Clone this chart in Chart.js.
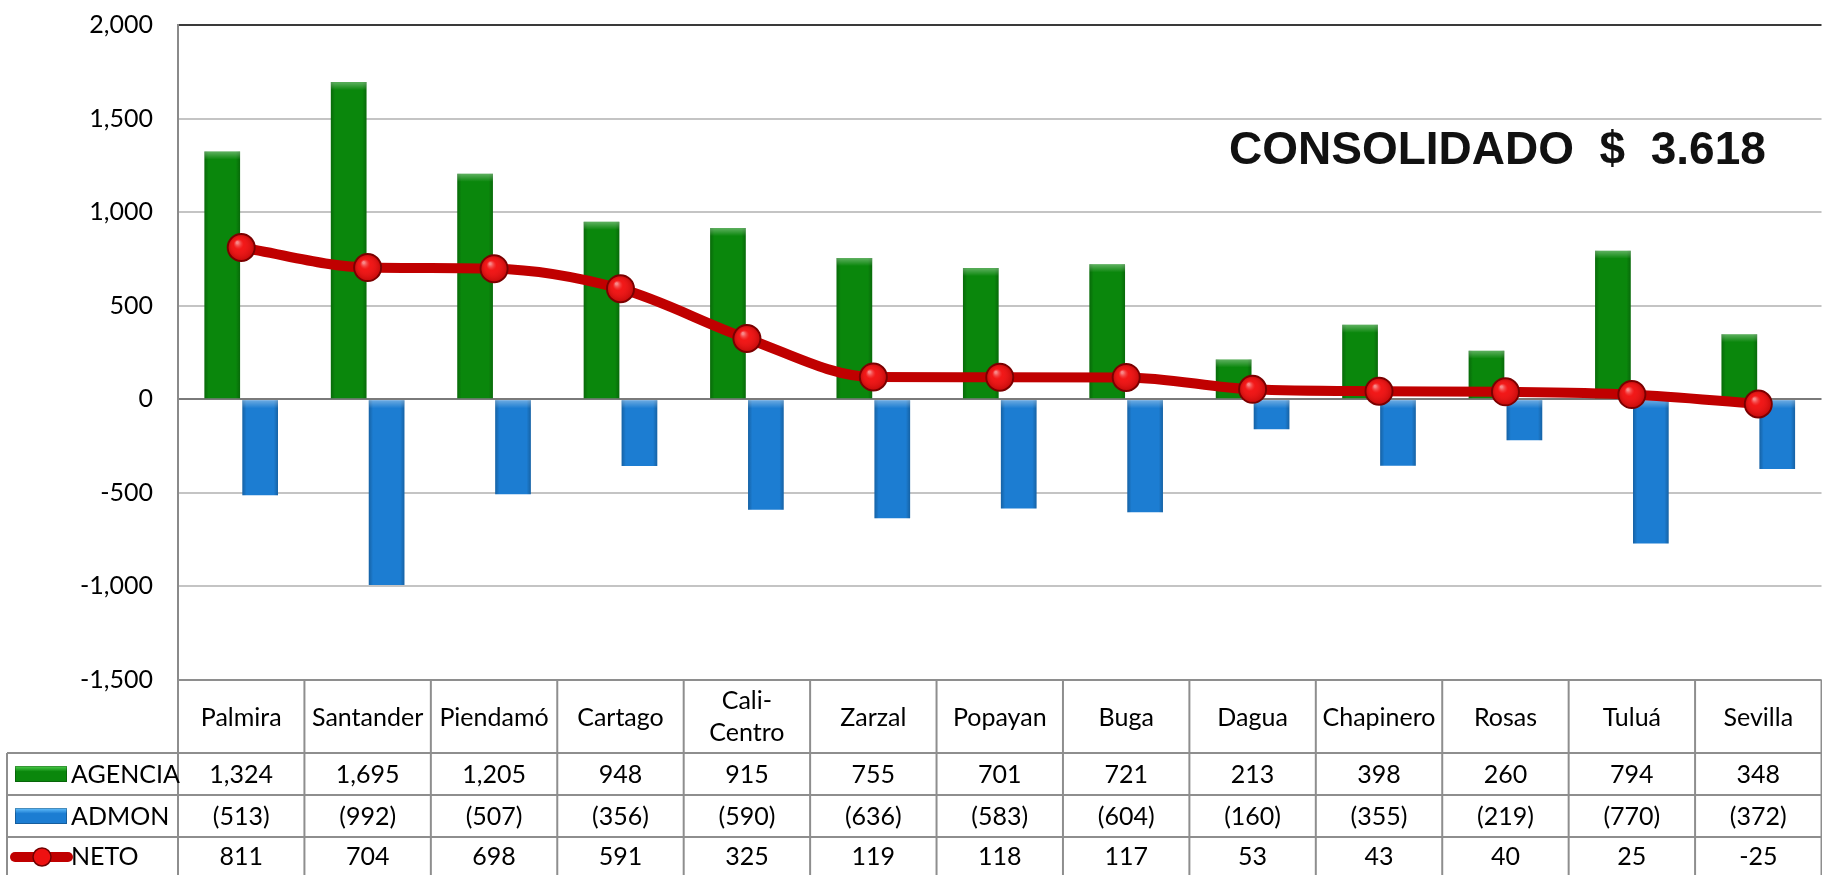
<!DOCTYPE html>
<html><head><meta charset="utf-8">
<script src="https://cdn.jsdelivr.net/npm/chart.js@4.4.1/dist/chart.umd.min.js"></script>
<style>
html,body{margin:0;padding:0;background:#fff;overflow:hidden;width:1822px;height:875px}
#wrap{position:absolute;left:0;top:0;width:1837px;height:875px}
</style>
</head><body><div id="wrap"><canvas id="c" width="1837" height="875"></canvas></div>
<script>
// ---------- data ----------
const categories = ['Palmira','Santander','Piendamó','Cartago',['Cali-','Centro'],'Zarzal','Popayan','Buga','Dagua','Chapinero','Rosas','Tuluá','Sevilla'];
const agencia = [1324,1695,1205,948,915,755,701,721,213,398,260,794,348];
const admon   = [-513,-992,-507,-356,-590,-636,-583,-604,-160,-355,-219,-770,-372];
const neto    = [811,704,698,591,325,119,118,117,53,43,40,25,-25];
const seriesNames = ['AGENCIA','ADMON','NETO'];
const yMin = -1500, yMax = 2000, yStep = 500;
const consolidadoText = 'CONSOLIDADO  $  3.618';

// ---------- styles ----------
const GREEN = '#0a870c', BLUE = '#1c7dd2', RED_LINE = '#c00000';
const FONT = 'Lato';
const FSIZE = 25;
const fmt = v => Math.abs(v).toLocaleString('en-US');
const fmtNum = v => (v < 0 ? '-' : '') + fmt(v);
const fmtAcct = v => v < 0 ? '(' + fmt(v) + ')' : fmt(v);

const barShade = {
  id: 'barShade',
  afterDatasetDraw(chart, args) {
    const meta = args.meta;
    const ctx = chart.ctx;
    if (meta.type === 'bar') {
      ctx.save();
      for (const el of meta.data) {
        const p = el.getProps(['x','y','base','width'], true);
        const l = p.x - p.width/2, t = Math.min(p.y, p.base), h = Math.abs(p.base - p.y);
        const g = ctx.createLinearGradient(l,0,l+p.width,0);
        g.addColorStop(0,'rgba(0,0,0,0.22)'); g.addColorStop(0.12,'rgba(0,0,0,0)');
        g.addColorStop(0.88,'rgba(0,0,0,0)'); g.addColorStop(1,'rgba(0,0,0,0.22)');
        ctx.fillStyle = g; ctx.fillRect(l,t,p.width,h);
        const g2 = ctx.createLinearGradient(0,t,0,t+8);
        g2.addColorStop(0,'rgba(255,255,255,0.35)'); g2.addColorStop(1,'rgba(255,255,255,0)');
        ctx.fillStyle = g2; ctx.fillRect(l,t,p.width,Math.min(8,h));
      }
      ctx.restore();
    } else if (meta.type === 'line') {
      ctx.save();
      for (const el of meta.data) {
        const p = el.getProps(['x','y'], true);
        const g = ctx.createRadialGradient(p.x-4,p.y-5,1,p.x,p.y,13);
        g.addColorStop(0,'rgba(255,255,255,0.5)');
        g.addColorStop(0.35,'rgba(255,80,80,0.12)');
        g.addColorStop(1,'rgba(120,0,0,0.35)');
        ctx.fillStyle = g;
        ctx.beginPath(); ctx.arc(p.x,p.y,12.5,0,Math.PI*2); ctx.fill();
      }
      ctx.restore();
    }
  }
};

function swatch(ctx, x, y, w, h, c1, c2) {
  const g = ctx.createLinearGradient(0,y,0,y+h);
  g.addColorStop(0,c1); g.addColorStop(0.35,c2); g.addColorStop(1,c2);
  ctx.fillStyle = g; ctx.fillRect(x,y,w,h);
  ctx.strokeStyle = 'rgba(0,0,0,0.25)'; ctx.lineWidth = 1; ctx.strokeRect(x+0.5,y+0.5,w-1,h-1);
}

const dataTable = {
  id: 'dataTable',
  afterDraw(chart) {
    const ctx = chart.ctx, xs = chart.scales.x;
    const n = categories.length;
    const step = xs.getPixelForValue(1) - xs.getPixelForValue(0);
    const top = xs.top;
    const rowH = [73, 42, 42, 40];
    const rows = [top];
    rowH.forEach(h => rows.push(rows[rows.length-1] + h));
    const bottom = rows[rows.length-1];
    const right = xs.getPixelForValue(n-1) + step/2;
    const legendLeft = 7;
    ctx.save();
    ctx.strokeStyle = '#8e8e8e'; ctx.lineWidth = 2;
    const line = (x1,y1,x2,y2) => { ctx.beginPath(); ctx.moveTo(x1,y1); ctx.lineTo(x2,y2); ctx.stroke(); };
    line(xs.left, top, right, top);
    for (let r = 1; r < rows.length; r++) line(legendLeft, rows[r], right, rows[r]);
    for (let i = 0; i <= n; i++) {
      const x = xs.getPixelForValue(i) - step/2;
      line(x, top, x, bottom);
    }
    line(legendLeft, rows[1], legendLeft, bottom);

    ctx.fillStyle = '#000';
    ctx.font = FSIZE + 'px ' + FONT;
    ctx.textAlign = 'center'; ctx.textBaseline = 'middle';
    const rowMid = r => (rows[r] + rows[r+1]) / 2;
    categories.forEach((c, i) => {
      const x = xs.getPixelForValue(i);
      if (Array.isArray(c)) {
        const m = rowMid(0), gap = 32;
        c.forEach((t, k) => ctx.fillText(t, x, m + (k - (c.length-1)/2) * gap));
      } else ctx.fillText(c, x, rowMid(0) + 1);
      ctx.fillText(fmtNum(agencia[i]), x, rowMid(1) + 1);
      ctx.fillText(fmtAcct(admon[i]), x, rowMid(2) + 1);
      ctx.fillText(fmtNum(neto[i]), x, rowMid(3));
    });
    // legend keys
    ctx.textAlign = 'left';
    swatch(ctx, 15, rowMid(1)-8, 52, 16, '#4fd14f', GREEN);
    swatch(ctx, 15, rowMid(2)-8, 52, 16, '#66c3ff', BLUE);
    ctx.strokeStyle = RED_LINE; ctx.lineWidth = 10; ctx.lineCap = 'round';
    line(15, rowMid(3), 68, rowMid(3));
    ctx.beginPath(); ctx.arc(42, rowMid(3), 9, 0, Math.PI*2);
    ctx.fillStyle = '#ee1111'; ctx.fill();
    ctx.lineWidth = 1.5; ctx.strokeStyle = '#700000'; ctx.stroke();
    ctx.fillStyle = '#000';
    ctx.fillText(seriesNames[0], 71, rowMid(1) + 1);
    ctx.fillText(seriesNames[1], 71, rowMid(2) + 1);
    ctx.fillText(seriesNames[2], 71, rowMid(3));
    ctx.restore();
  }
};

const titlePlugin = {
  id: 'consolidado',
  afterDraw(chart) {
    const ctx = chart.ctx, ys = chart.scales.y;
    ctx.save();
    ctx.font = 'bold 46px "Liberation Sans", Arial, sans-serif';
    ctx.fillStyle = '#111';
    ctx.textAlign = 'left'; ctx.textBaseline = 'middle';
    ctx.fillText(consolidadoText, 1229, ys.getPixelForValue(1325));
    ctx.restore();
  }
};

new Chart(document.getElementById('c'), {
  data: {
    labels: categories,
    datasets: [
      { type: 'line', label: seriesNames[2], data: neto, order: 0,
        borderColor: RED_LINE, borderWidth: 10, cubicInterpolationMode: 'monotone',
        pointRadius: 13.5, pointBackgroundColor: '#f01010', pointBorderColor: '#7a0000', pointBorderWidth: 2 },
      { type: 'bar', label: seriesNames[0], data: agencia, order: 1, backgroundColor: GREEN,
        categoryPercentage: 0.6, barPercentage: 0.94 },
      { type: 'bar', label: seriesNames[1], data: admon, order: 1, backgroundColor: BLUE,
        categoryPercentage: 0.6, barPercentage: 0.94 }
    ]
  },
  options: {
    responsive: false, animation: false, devicePixelRatio: 1,
    layout: { padding: { top: 25, right: 0, bottom: 0, left: 0 } },
    plugins: { legend: { display: false }, tooltip: { enabled: false }, title: { display: false } },
    scales: {
      x: {
        ticks: { display: false },
        grid: { display: false },
        border: { display: false },
        afterFit: s => { s.height = 195; s.paddingTop = 0; s.paddingBottom = 0; }
      },
      y: {
        min: yMin, max: yMax,
        ticks: { stepSize: yStep, padding: 25, color: '#000', font: { family: FONT, size: FSIZE },
                 callback: v => fmtNum(v) },
        grid: { drawTicks: false, lineWidth: 2,
                color: c => c.tick.value === yMax ? '#3a3a3a' : (c.tick.value === 0 ? '#7a7a7a' : '#c4c4c4') },
        border: { display: true, color: '#8a8a8a', width: 2 },
        afterFit: s => { s.width = 178; s.paddingTop = 0; s.paddingBottom = 0; }
      }
    }
  },
  plugins: [barShade, dataTable, titlePlugin]
});
</script>
</body></html>
